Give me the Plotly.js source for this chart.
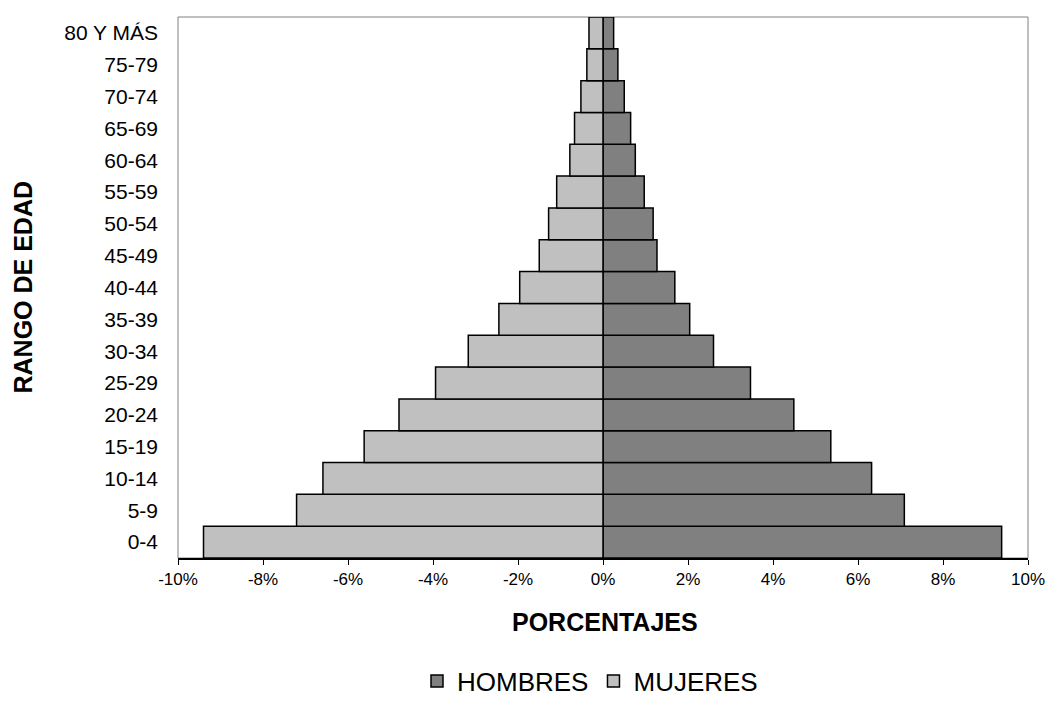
<!DOCTYPE html>
<html>
<head>
<meta charset="utf-8">
<script src="https://cdn.plot.ly/plotly-3.0.1.min.js"></script>
<style>html,body{margin:0;padding:0;background:#fff;}#chart{width:1050px;height:713px;}</style>
</head>
<body>
<div id="chart"></div>
<script>
const ageGroups = ["0-4","5-9","10-14","15-19","20-24","25-29","30-34","35-39","40-44","45-49","50-54","55-59","60-64","65-69","70-74","75-79","80 Y MÁS"];
const hombres = [9.38, 7.09, 6.32, 5.36, 4.49, 3.47, 2.60, 2.04, 1.69, 1.27, 1.18, 0.97, 0.76, 0.65, 0.50, 0.35, 0.25];
const mujeres = [9.40, 7.21, 6.59, 5.62, 4.80, 3.94, 3.17, 2.45, 1.96, 1.50, 1.28, 1.09, 0.78, 0.67, 0.52, 0.38, 0.33];
const xTickVals = [-10, -8, -6, -4, -2, 0, 2, 4, 6, 8, 10];
const xTickText = ["-10%", "-8%", "-6%", "-4%", "-2%", "0%", "2%", "4%", "6%", "8%", "10%"];

const FONT = "Liberation Sans, Arial, sans-serif";

const traces = [
  {
    type: "bar", orientation: "h", name: "HOMBRES",
    y: ageGroups, x: hombres,
    marker: { color: "#808080", line: { color: "#000000", width: 1.5 } },
    hoverinfo: "skip"
  },
  {
    type: "bar", orientation: "h", name: "MUJERES",
    y: ageGroups, x: mujeres.map(v => -v),
    marker: { color: "#C0C0C0", line: { color: "#000000", width: 1.5 } },
    hoverinfo: "skip"
  }
];

const layout = {
  width: 1050, height: 713,
  paper_bgcolor: "#ffffff", plot_bgcolor: "#ffffff",
  margin: { l: 178, r: 22, t: 17, b: 155 },
  font: { family: FONT, color: "#000000" },
  barmode: "relative", bargap: 0,
  showlegend: true,
  legend: {
    orientation: "h", xref: "container", yref: "container",
    x: 590 / 1050, xanchor: "center", y: 1 - 681 / 713, yanchor: "middle",
    font: { family: FONT, size: 26, color: "#000" },
    traceorder: "normal", itemwidth: 30, tracegroupgap: 0
  },
  xaxis: {
    range: [-10, 10], tickvals: xTickVals, ticktext: xTickText,
    showgrid: false, zeroline: false,
    showline: true, linecolor: "#000", linewidth: 1.5,
    ticks: "outside", ticklen: 5, tickcolor: "#000", tickwidth: 1,
    tickfont: { family: FONT, size: 17, color: "#000" },
    fixedrange: true
  },
  yaxis: {
    type: "category", categoryorder: "array", categoryarray: ageGroups,
    showgrid: false, zeroline: false, showline: false,
    ticks: "", ticklabelstandoff: 19,
    tickfont: { family: FONT, size: 21, color: "#000" },
    fixedrange: true
  },
  shapes: [
    { type: "rect", xref: "paper", yref: "paper", x0: 0, x1: 1, y0: 0, y1: 1,
      line: { color: "#808080", width: 1 }, fillcolor: "rgba(0,0,0,0)", layer: "below" }
  ],
  annotations: [
    { text: "<b>PORCENTAJES</b>", xref: "paper", yref: "paper",
      x: (605 - 178) / 850, y: (558 - 622) / 541, xanchor: "center", yanchor: "middle",
      showarrow: false, font: { family: FONT, size: 25, color: "#000" } },
    { text: "<b>RANGO DE EDAD</b>", xref: "paper", yref: "paper",
      x: (22 - 178) / 850, y: 0.5, xanchor: "center", yanchor: "middle", textangle: -90,
      showarrow: false, font: { family: FONT, size: 25, color: "#000" } }
  ]
};

Plotly.newPlot("chart", traces, layout, { displayModeBar: false, staticPlot: true });
</script>
</body>
</html>
